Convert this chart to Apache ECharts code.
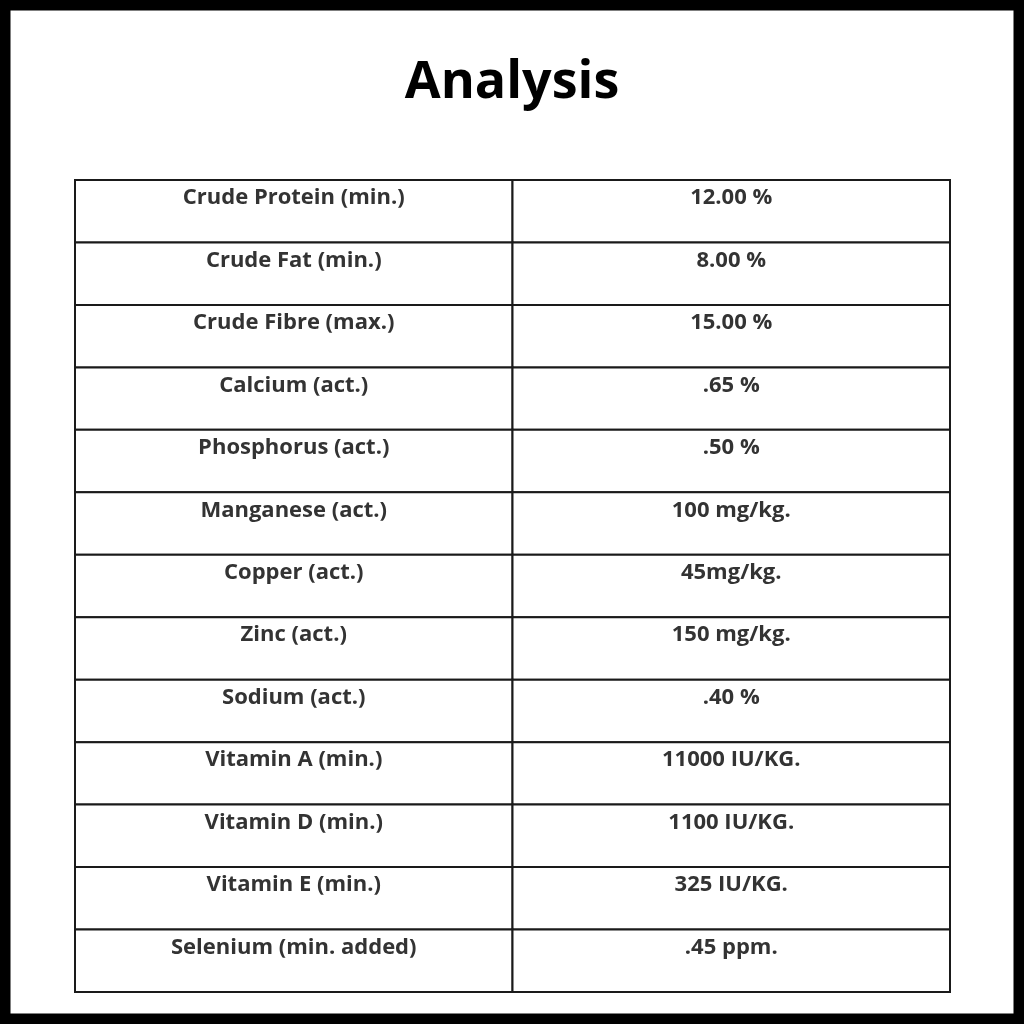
<!DOCTYPE html>
<html>
<head>
<meta charset="utf-8">
<script src="https://cdn.jsdelivr.net/npm/echarts@6/dist/echarts.min.js"></script>
<style>
html,body{margin:0;padding:0;background:#fff;}
#c{width:1024px;height:1024px;}
</style>
</head>
<body>
<div id="c"></div>
<script>
const title = 'Analysis';
const nutrients = ['Crude Protein (min.)','Crude Fat (min.)','Crude Fibre (max.)','Calcium (act.)','Phosphorus (act.)','Manganese (act.)','Copper (act.)','Zinc (act.)','Sodium (act.)','Vitamin A (min.)','Vitamin D (min.)','Vitamin E (min.)','Selenium (min. added)'];
const amounts = ['12.00 %','8.00 %','15.00 %','.65 %','.50 %','100 mg/kg.','45mg/kg.','150 mg/kg.','.40 %','11000 IU/KG.','1100 IU/KG.','325 IU/KG.','.45 ppm.'];
const columns = ['Nutrient','Amount'];

const cells = [];
nutrients.forEach((n, i) => {
  cells.push([0, i, n]);
  cells.push([1, i, amounts[i]]);
});

const chart = echarts.init(document.getElementById('c'));
chart.setOption({
  backgroundColor: '#fff',
  animation: false,
  title: {
    text: title, left: 'center', top: 52,
    textStyle: {fontFamily: 'Open Sans', fontWeight: 'bold', fontSize: 52, color: '#000'}
  },
  graphic: [{
    type: 'rect', silent: true,
    shape: {x: 5, y: 5, width: 1014, height: 1014},
    style: {fill: 'none', stroke: '#000', lineWidth: 11}
  }],
  grid: {left: 75, right: 74, top: 180, bottom: 32},
  xAxis: {type: 'category', data: columns, show: false},
  yAxis: {type: 'category', data: nutrients, inverse: true, show: false},
  series: [{
    type: 'custom',
    data: cells,
    encode: {x: 0, y: 1},
    renderItem: function (params, api) {
      const c = api.coord([api.value(0), api.value(1)]);
      const s = api.size([1, 1]);
      const x = c[0] - s[0] / 2, y = c[1] - s[1] / 2;
      return {
        type: 'group',
        children: [{
          type: 'rect',
          shape: {x: x, y: y, width: s[0], height: s[1]},
          style: {fill: '#fff', stroke: '#1a1a1a', lineWidth: 2}
        }, {
          type: 'text',
          style: {
            x: c[0], y: y + 18,
            text: cells[params.dataIndex][2],
            align: 'center', verticalAlign: 'middle',
            font: 'bold 22px "Open Sans"', fill: '#333'
          }
        }]
      };
    }
  }]
});
</script>
</body>
</html>
